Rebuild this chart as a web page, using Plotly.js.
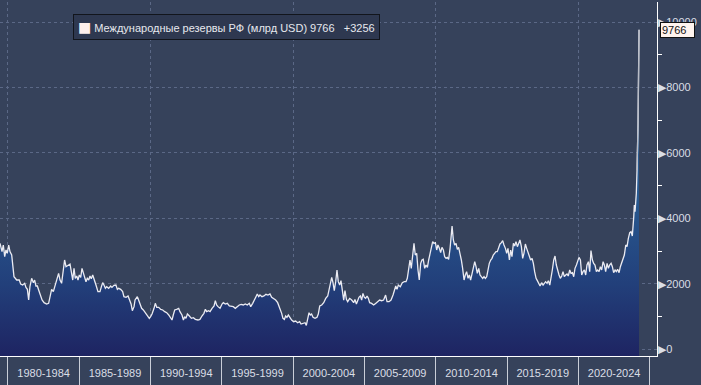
<!DOCTYPE html>
<html>
<head>
<meta charset="utf-8">
<script src="https://cdn.plot.ly/plotly-3.0.1.min.js"></script>
<style>
html,body{margin:0;padding:0;background:#36425b;}
#chart{width:701px;height:385px;}
</style>
</head>
<body>
<div id="chart"></div>
<script>
// Decimal years of observations
var years = [
1979.44,1979.58,1979.67,1979.77,1979.86,1979.95,1980.05,1980.14,1980.26,1980.33,
1980.42,1980.61,1980.79,1980.89,1981.03,1981.17,1981.26,1981.36,1981.45,1981.54,
1981.66,1981.78,1981.87,1981.96,1982.06,1982.15,1982.25,1982.39,1982.53,1982.71,
1982.85,1982.95,1983.06,1983.18,1983.30,1983.41,1983.55,1983.65,1983.76,1983.88,
1983.97,1984.07,1984.21,1984.35,1984.44,1984.54,1984.63,1984.72,1984.82,1984.91,
1985.00,1985.10,1985.19,1985.28,1985.38,1985.47,1985.56,1985.66,1985.75,1985.84,
1985.94,1986.03,1986.17,1986.31,1986.45,1986.55,1986.64,1986.73,1986.83,1986.92,
1987.06,1987.20,1987.29,1987.43,1987.57,1987.67,1987.76,1987.90,1988.04,1988.13,
1988.28,1988.42,1988.51,1988.63,1988.72,1988.84,
1988.91,1989.07,1989.14,1989.26,1989.37,1989.49,1989.61,1989.77,1989.91,1990.00,
1990.10,1990.24,1990.33,1990.43,1990.57,1990.71,1990.85,1990.99,1991.13,1991.27,
1991.41,1991.50,1991.59,1991.69,1991.83,1991.97,1992.06,1992.20,1992.30,1992.39,
1992.48,1992.58,1992.72,1992.86,1993.00,1993.14,1993.32,1993.46,1993.60,1993.74,
1993.84,1993.93,1994.07,1994.17,1994.31,1994.45,1994.54,1994.63,1994.73,1994.87,
1995.01,1995.10,1995.24,1995.38,1995.52,1995.66,1995.80,1995.94,1996.08,1996.22,
1996.36,1996.50,1996.64,1996.78,1996.92,1997.02,1997.16,1997.30,1997.39,1997.48,
1997.58,1997.67,1997.81,1997.95,1998.09,1998.23,1998.37,
1998.49,1998.63,1998.77,1998.91,1999.05,1999.19,1999.28,1999.38,1999.47,1999.56,
1999.66,1999.75,1999.89,2000.03,2000.17,2000.31,2000.45,2000.55,2000.69,2000.83,
2000.92,2001.01,2001.11,2001.20,2001.29,2001.39,2001.53,2001.67,2001.76,2001.86,
2002.00,2002.14,2002.28,2002.42,2002.51,2002.60,2002.70,2002.79,2002.88,2002.98,
2003.07,2003.16,2003.26,2003.35,2003.45,2003.54,2003.63,2003.73,2003.82,2003.96,
2004.10,2004.24,2004.33,2004.43,2004.52,2004.61,2004.71,2004.80,2004.89,2004.99,
2005.08,2005.18,2005.27,2005.36,2005.50,2005.64,2005.78,2005.92,2006.06,2006.20,
2006.34,2006.48,2006.58,2006.72,2006.86,2007.00,2007.09,2007.19,2007.28,2007.37,
2007.51,2007.65,2007.79,
2007.91,2008.00,2008.10,2008.19,2008.28,2008.38,2008.47,2008.56,2008.66,2008.75,
2008.84,2008.94,2009.03,2009.12,2009.22,2009.31,2009.41,2009.50,2009.59,2009.69,
2009.78,2009.87,2009.97,2010.06,2010.15,2010.25,2010.34,2010.43,2010.53,2010.62,
2010.72,2010.81,2010.90,2011.00,2011.09,2011.14,2011.23,2011.32,2011.42,2011.51,
2011.60,2011.70,2011.79,2011.88,2011.98,2012.07,2012.16,2012.26,2012.35,2012.44,
2012.54,2012.63,2012.73,2012.82,2012.91,2013.01,2013.10,2013.19,2013.29,2013.38,
2013.47,2013.57,2013.66,2013.75,2013.85,2013.94,2014.03,2014.13,2014.22,2014.31,
2014.41,2014.50,2014.60,2014.69,2014.78,2014.88,2014.97,2015.06,2015.16,2015.25,
2015.34,2015.44,2015.53,2015.62,2015.72,2015.81,2015.90,2016.00,2016.09,2016.18,
2016.28,2016.37,2016.47,2016.56,2016.65,2016.75,2016.84,2016.93,2017.03,2017.12,
2017.21,2017.31,
2017.42,2017.52,2017.61,2017.70,2017.80,2017.89,2017.99,2018.08,2018.17,2018.27,
2018.36,2018.45,2018.55,2018.64,2018.73,2018.83,2018.92,2019.01,2019.11,2019.20,
2019.29,2019.39,2019.48,2019.58,2019.67,2019.76,2019.86,2019.95,2020.04,2020.14,
2020.23,2020.32,2020.42,2020.51,2020.60,2020.70,2020.79,2020.88,2020.98,2021.07,
2021.16,2021.26,2021.35,2021.45,2021.54,2021.63,2021.73,2021.82,2021.91,2022.01,
2022.10,2022.19,2022.29,2022.38,2022.47,2022.57,2022.66,2022.75,2022.85,2022.94,
2023.03,2023.13,2023.22,2023.32,2023.41,2023.50,2023.60,2023.69,2023.78,2023.88,
2023.92,2023.97,2024.02,2024.06,2024.11,2024.18,2024.25
];

// Values (млрд USD as labelled)
var reserves = [
3238,2984,3187,2831,3035,2933,3187,2984,2882,2525,
2219,2117,2117,1995,1965,2016,1893,1832,1506,1914,
2168,2036,2117,1934,1934,1812,1659,1506,1425,1384,
1404,1659,1832,1761,1965,2066,2321,2117,2016,2423,
2729,2525,2576,2607,2372,2117,2474,2168,2240,2117,
2270,2199,2474,2342,2219,2066,2168,2117,2240,2158,
2270,2117,1965,1761,1761,1914,2036,1965,1863,1914,
1863,1934,1893,1954,1965,1832,1863,1832,1761,1608,
1588,1628,1506,1384,1180,1302,
1507,1608,1527,1405,1252,1201,1119,1017,946,997,
1079,1252,1405,1282,1282,1221,1201,1150,1119,1048,
946,895,1048,1201,1221,1252,1150,1048,895,997,
946,1079,1017,946,966,915,895,915,1017,1099,
1221,1150,1180,1150,1252,1323,1486,1354,1303,1252,
1384,1425,1384,1405,1323,1303,1303,1252,1303,1354,
1374,1354,1384,1354,1405,1303,1405,1507,1608,1690,
1608,1659,1608,1629,1680,1659,1690,
1587,1556,1505,1424,1281,1098,945,914,1016,976,
1047,976,894,843,863,812,843,772,792,812,
731,914,1118,1047,1077,976,945,976,1077,1322,
1353,1424,1556,1628,1831,1964,2198,2035,1791,2066,
2423,2066,1964,2096,1760,1505,1791,1526,1455,1556,
1505,1424,1526,1383,1485,1587,1628,1505,1709,1587,
1556,1628,1556,1424,1403,1353,1403,1455,1505,1485,
1505,1658,1455,1455,1505,1658,1811,1933,1831,1964,
1913,2035,2066,
2066,2168,2525,2729,2474,2830,3238,2881,2932,2423,
2117,2627,2729,2749,2474,2576,2504,2729,2932,3187,
3289,3238,3258,3034,3187,3085,2953,3116,3034,2830,
2779,2810,2749,3085,3442,3768,3340,3187,3238,3055,
3116,2953,2729,2474,2117,2270,2372,2168,2270,2117,
2321,2525,2678,2525,2321,2474,2270,2219,2168,2219,
2168,2219,2474,2627,2729,2779,2881,2932,2983,2983,
3136,3218,3258,3320,3187,3085,2932,3085,2729,3034,
2830,3238,3157,3289,3136,3238,3340,3136,2779,2932,
3218,3085,2953,2881,2729,2779,2627,2372,2168,2097,
1995,1934,
2035,1964,2015,2066,2015,2097,1964,2168,2423,2728,
2851,2575,2372,2270,2168,2239,2372,2219,2270,2300,
2239,2423,2321,2341,2219,2474,2575,2677,2810,2728,
2270,2372,2423,2270,2575,2677,2372,3014,2728,2626,
2575,2372,2423,2372,2525,2423,2677,2575,2372,2626,
2474,2575,2626,2525,2341,2423,2372,2443,2341,2525,
2626,2728,2881,3187,3136,3391,3564,3595,3462,4053,
4410,4206,4512,4766,5480,6900,9766
];

var periodCenters = [1982.5,1987.5,1992.5,1997.5,2002.5,2007.5,2012.5,2017.5,2022.5];
var periodLabels = ['1980-1984','1985-1989','1990-1994','1995-1999','2000-2004','2005-2009','2010-2014','2015-2019','2020-2024'];
var yTickVals = [0,2000,4000,6000,8000,10000];
var yTickText = ['0','2000','4000','6000','8000','10000'];
var seriesName = 'Международные резервы РФ (млрд USD)';
var lastValue = '9766';
var lastChange = '+3256';
var baselineValue = [-400,-400];

var xRange = [1979.44, 2025.51];
var yRange = [-205, 10613];

var baseline = {
  x: [years[0], years[years.length-1]],
  y: baselineValue,
  type: 'scatter', mode: 'lines',
  line: {width: 0, color: 'rgba(0,0,0,0)'},
  hoverinfo: 'skip', showlegend: false
};

var main = {
  x: years, y: reserves,
  type: 'scatter', mode: 'lines',
  name: seriesName,
  line: {color: '#ebebf2', width: 1.3},
  fill: 'tonexty',
  fillgradient: {
    type: 'vertical',
    start: -205, stop: 4600,
    colorscale: [[0,'#1e2462'],[0.45,'#223f7a'],[1,'#285990']]
  },
  hoverinfo: 'skip', showlegend: false
};

// last jump drawn in a softer grey, as in the source
var lastLeg = {
  x: years.slice(-3), y: reserves.slice(-3),
  type: 'scatter', mode: 'lines',
  line: {color: '#b8bcc6', width: 1.3},
  hoverinfo: 'skip', showlegend: false
};

// invisible carrier so the period-label axis is drawn
var labelCarrier = {
  x: periodCenters, y: periodCenters.map(function(){ return null; }),
  xaxis: 'x2', yaxis: 'y',
  type: 'scatter', mode: 'markers',
  marker: {size: 0, opacity: 0},
  hoverinfo: 'skip', showlegend: false
};

var gridCol = '#5b6886';
var font = 'Liberation Sans, Arial, sans-serif';

var layout = {
  width: 701, height: 385,
  margin: {l: 0, r: 44, t: 2, b: 29, pad: 0},
  paper_bgcolor: '#36425b',
  plot_bgcolor: '#36425b',
  showlegend: false,
  hovermode: false,
  xaxis: {
    range: xRange, type: 'linear',
    tickmode: 'linear', tick0: 1980, dtick: 10,
    showgrid: true, gridcolor: gridCol, griddash: '3px,3px', gridwidth: 1,
    ticks: 'outside', ticklen: 29, tickcolor: '#c9ced8', tickwidth: 1,
    showticklabels: false,
    showline: true, linecolor: '#ffffff', linewidth: 1,
    zeroline: false,
    minor: {tick0: 1980, dtick: 5, ticks: 'outside', ticklen: 29, tickcolor: '#c9ced8', tickwidth: 1, showgrid: false}
  },
  xaxis2: {
    overlaying: 'x', anchor: 'y', side: 'bottom',
    range: xRange, type: 'linear',
    tickmode: 'array', tickvals: periodCenters, ticktext: periodLabels,
    ticks: '', showgrid: false, showline: false, zeroline: false,
    ticklabelstandoff: 9,
    tickfont: {family: font, size: 11, color: '#dadee6'}
  },
  yaxis: {
    range: yRange, side: 'right',
    tickmode: 'array', tickvals: yTickVals,
    ticktext: yTickText.map(function(t){ return '<span style="font-size:11px">▶</span>' + t; }),
    ticks: '',
    showgrid: true, gridcolor: gridCol, griddash: '3px,3px', gridwidth: 1,
    showline: true, linecolor: '#ffffff', linewidth: 1,
    zeroline: false,
    ticklabelstandoff: -2,
    tickfont: {family: font, size: 11, color: '#dadee6'},
    minor: {tick0: 1000, dtick: 2000, ticks: 'outside', ticklen: 4, tickcolor: '#ffffff', tickwidth: 1, showgrid: false}
  },
  annotations: [
    {
      xref: 'paper', yref: 'paper', x: 73/657, y: (356-14)/354,
      xanchor: 'left', yanchor: 'top', showarrow: false, align: 'left',
      text: '<span style="color:#fdefec;font-family:DejaVu Sans;font-size:14px">■</span> ' + seriesName + ' ' + lastValue + '&nbsp;&nbsp;&nbsp;' + lastChange,
      font: {family: font, size: 11, color: '#e6e8ee'},
      bgcolor: '#2e3850', bordercolor: '#12151c', borderwidth: 1, borderpad: 4
    },
    {
      xref: 'paper', yref: 'y', x: 1, y: reserves[reserves.length-1],
      xanchor: 'left', yanchor: 'middle', xshift: 3, showarrow: false,
      text: lastValue + '&nbsp;&nbsp;',
      font: {family: font, size: 11, color: '#111111'},
      bgcolor: '#fff3ee', bordercolor: '#111111', borderwidth: 1, borderpad: 1
    }
  ]
};

Plotly.newPlot('chart', [baseline, main, lastLeg, labelCarrier], layout, {displayModeBar: false, staticPlot: true});
</script>
</body>
</html>
